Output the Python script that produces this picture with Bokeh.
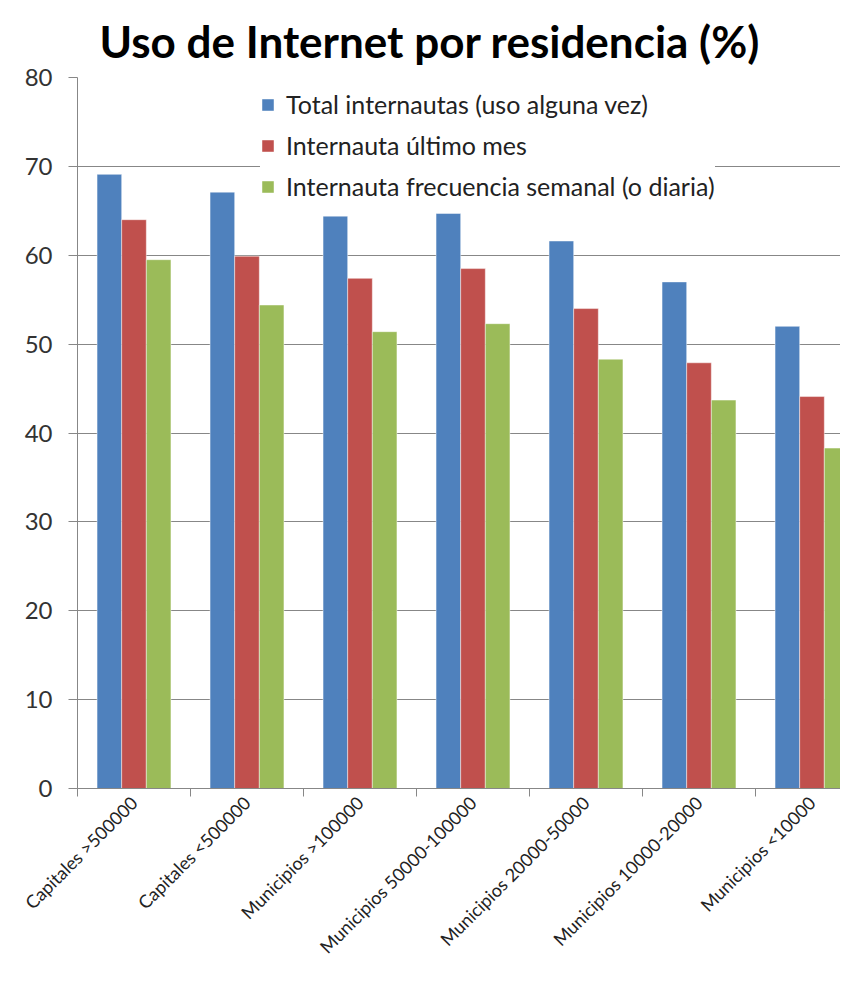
import math
from bokeh.plotting import figure
from bokeh.models import Range1d, FixedTicker, ColumnDataSource
from bokeh.embed import file_html
from bokeh.resources import INLINE

categories = ["Capitales >500000", "Capitales <500000", "Municipios >100000",
              "Municipios 50000-100000", "Municipios 20000-50000",
              "Municipios 10000-20000", "Municipios <10000"]
total_internautas = [69.1, 67.1, 64.4, 64.7, 61.6, 57.0, 52.0]
ultimo_mes = [64.0, 59.9, 57.4, 58.5, 54.0, 47.9, 44.1]
frecuencia_semanal = [59.5, 54.4, 51.4, 52.3, 48.3, 43.7, 38.3]
series_names = ["Total internautas (uso alguna vez)", "Internauta último mes",
                "Internauta frecuencia semanal (o diaria)"]
y_ticks = [0, 10, 20, 30, 40, 50, 60, 70, 80]

colors = ["#4F81BD", "#C0504D", "#9BBB59"]
FONT = "Lato"
GRAY = "#878787"

W, H = 840, 972
LEFT, TOP, BOTTOM = 77, 77, 184
p = figure(width=W, height=H, output_backend="svg", toolbar_location=None,
           x_range=Range1d(0, (W - LEFT) / 113.0), y_range=Range1d(0, 80),
           min_border_left=LEFT, min_border_right=0, min_border_top=TOP,
           min_border_bottom=BOTTOM)
p.outline_line_color = None
p.background_fill_color = "white"

p.title.text = "Uso de Internet por residencia (%)"
p.title.text_font = FONT
p.title.text_font_style = "bold"
p.title.text_font_size = "44px"
p.title.text_color = "#000000"
p.title.align = "left"
p.title.offset = 22
p.title.standoff = 22

bar_w = 0.218
series = [total_internautas, ultimo_mes, frecuencia_semanal]
for k, (vals, name, col) in enumerate(zip(series, series_names, colors)):
    xs = [i + 0.5 + (k - 1) * bar_w for i in range(len(categories))]
    src = ColumnDataSource(dict(x=xs, top=vals))
    p.vbar(x="x", top="top", width=bar_w, bottom=0, source=src,
           fill_color=col, line_color="white", line_alpha=0.45, line_width=1,
           legend_label=name)

# x axis
xax = p.xaxis[0]
xax.ticker = FixedTicker(ticks=[i + 0.5 for i in range(len(categories))],
                         minor_ticks=list(range(len(categories) + 1)))
xax.major_label_overrides = {i + 0.5: c for i, c in enumerate(categories)}
xax.major_label_orientation = math.pi / 4
xax.major_tick_out = 0
xax.major_tick_in = 0
xax.minor_tick_out = 8
xax.minor_tick_in = 0
xax.minor_tick_line_color = GRAY
xax.axis_line_color = GRAY
xax.major_label_text_font = FONT
xax.major_label_text_font_size = "18px"
xax.major_label_text_color = "#222222"
xax.major_label_standoff = 3

# y axis
yax = p.yaxis[0]
yax.ticker = FixedTicker(ticks=y_ticks)
yax.major_tick_out = 9
yax.major_tick_in = 0
yax.minor_tick_line_color = None
yax.axis_line_color = GRAY
yax.major_tick_line_color = GRAY
yax.major_label_text_font = FONT
yax.major_label_text_font_size = "24px"
yax.major_label_text_color = "#333333"
yax.major_label_standoff = 16

p.xgrid.grid_line_color = None
p.ygrid.ticker = FixedTicker(ticks=y_ticks)
p.ygrid.grid_line_color = GRAY
p.ygrid.grid_line_width = 1

lg = p.legend[0]
lg.location = (183, 587)
lg.background_fill_color = "white"
lg.background_fill_alpha = 1
lg.border_line_color = None
lg.padding = 10
lg.spacing = 11
lg.glyph_width = 15
lg.glyph_height = 15
lg.label_height = 30
lg.label_standoff = 11
lg.label_text_font = FONT
lg.label_text_font_size = "25px"
lg.label_text_color = "#222222"
lg.margin = 0

open("out.html", "w").write(file_html(p, INLINE))
